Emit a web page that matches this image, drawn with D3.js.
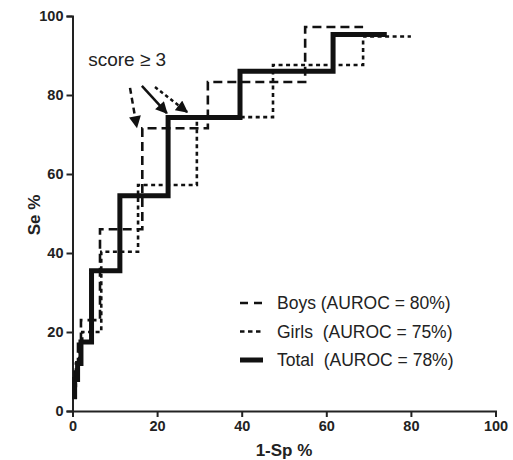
<!DOCTYPE html>
<html>
<head>
<meta charset="utf-8">
<script src="https://cdn.jsdelivr.net/npm/d3@7"></script>
<style>
  body { margin: 0; background: #fff; }
  svg { display: block; font-family: Arial, "Liberation Sans", sans-serif; }
  text { white-space: pre; }
</style>
</head>
<body>
<svg id="chart" width="513" height="460"></svg>
<script>
// ROC curve vertices (1-Sp %, Se %)
const boysX  = [0.5, 0.5, 1.3, 1.3, 2, 2, 6.5, 6.5, 16.5, 16.5, 32, 32, 55, 55, 68.7];
const boysY  = [5, 10, 10, 17, 17, 23, 23, 46, 46, 71.6, 71.6, 83.3, 83.3, 97.2, 97.2];
const girlsX = [0.8, 0.8, 1.6, 1.6, 2.3, 2.3, 6.8, 6.8, 15.5, 15.5, 29.4, 29.4, 47.4, 47.4, 68.7, 68.7, 80];
const girlsY = [6, 12, 12, 17, 17, 20, 20, 40.3, 40.3, 57.2, 57.2, 74.4, 74.4, 87.6, 87.6, 94.8, 94.8];
const totalX = [0.5, 0.5, 1.2, 1.2, 2, 2, 4.5, 4.5, 11.2, 11.2, 22.6, 22.6, 39.6, 39.6, 61.6, 61.6, 74.3];
const totalY = [3, 8, 8, 12, 12, 17.5, 17.5, 35.5, 35.5, 54.5, 54.5, 74.3, 74.3, 86, 86, 95.3, 95.3];

const legendLabels = ["Boys (AUROC = 80%)", "Girls  (AUROC = 75%)", "Total  (AUROC = 78%)"];
const tickValues = [0, 20, 40, 60, 80, 100];

// "score >= 3" arrows: start and end in data units
const arrowFrom = [[13.6, 81.8], [16.4, 82.3], [19.5, 82]];
const arrowTo   = [[15.2, 71.9], [22.3, 75.4], [27.1, 75.7]];

const svg = d3.select("#chart");
const x = d3.scaleLinear().domain([0, 100]).range([72.5, 495.5]);
const y = d3.scaleLinear().domain([0, 100]).range([411, 16]);

const styles = [
    { width: 2.6, dash: "9,5" },   // boys
    { width: 2.6, dash: "4,3.5" }, // girls
    { width: 5, dash: null }       // total
];
const ink = "#111";

function pts(xs, ys) { return xs.map((v, i) => [v, ys[i]]); }
const series = [pts(boysX, boysY), pts(girlsX, girlsY), pts(totalX, totalY)];

const line = d3.line().x(d => x(d[0])).y(d => y(d[1]));

// axes
const yAxis = svg.append("g")
    .attr("transform", "translate(" + x(0) + ",0)")
    .call(d3.axisLeft(y).tickValues(tickValues).tickSize(6).tickPadding(3));
const xAxis = svg.append("g")
    .attr("transform", "translate(0," + y(0) + ")")
    .call(d3.axisBottom(x).tickValues(tickValues).tickSize(6).tickPadding(4));

[xAxis, yAxis].forEach(a => {
    a.select(".domain").attr("stroke", "#222").attr("stroke-width", 2);
    a.selectAll(".tick line").attr("stroke", "#222").attr("stroke-width", 2);
    a.selectAll(".tick text")
        .attr("fill", "#222")
        .attr("font-size", "14.5px")
        .attr("font-weight", "bold")
        .attr("font-family", "Arial, 'Liberation Sans', sans-serif");
});

// axis titles
svg.append("text")
    .attr("x", 284).attr("y", 456)
    .attr("text-anchor", "middle")
    .attr("font-size", "17px").attr("font-weight", "bold").attr("fill", "#222")
    .text("1-Sp %");
svg.append("text")
    .attr("transform", "translate(40,215) rotate(-90)")
    .attr("text-anchor", "middle")
    .attr("font-size", "17px").attr("font-weight", "bold").attr("fill", "#222")
    .text("Se %");

// curves
series.forEach((s, i) => {
    svg.append("path")
        .datum(s)
        .attr("d", line)
        .attr("fill", "none")
        .attr("stroke", ink)
        .attr("stroke-width", styles[i].width)
        .attr("stroke-dasharray", styles[i].dash);
});

// arrow head marker
svg.append("defs").append("marker")
    .attr("id", "head")
    .attr("viewBox", "0 0 10 10")
    .attr("refX", 9).attr("refY", 5)
    .attr("markerWidth", 13).attr("markerHeight", 12)
    .attr("markerUnits", "userSpaceOnUse")
    .attr("orient", "auto")
    .append("path")
    .attr("d", "M0,0L10,5L0,10Z")
    .attr("fill", ink);

const arrowDash = ["6,4", null, "3.5,3"];
arrowFrom.forEach((a, i) => {
    svg.append("line")
        .attr("x1", x(a[0])).attr("y1", y(a[1]))
        .attr("x2", x(arrowTo[i][0])).attr("y2", y(arrowTo[i][1]))
        .attr("stroke", ink)
        .attr("stroke-width", 2.5)
        .attr("stroke-dasharray", arrowDash[i])
        .attr("marker-end", "url(#head)");
});

svg.append("text")
    .attr("x", x(3.7)).attr("y", y(87.3))
    .attr("font-size", "19px").attr("fill", "#222")
    .text("score \u2265 3");

// legend
const legend = svg.append("g");
legendLabels.forEach((lab, i) => {
    const ly = 303 + i * 28.5;
    legend.append("line")
        .attr("x1", 240).attr("x2", 263)
        .attr("y1", ly).attr("y2", ly)
        .attr("stroke", ink)
        .attr("stroke-width", i == 2 ? 5 : 2.6)
        .attr("stroke-dasharray", i == 0 ? "8,6" : (i == 1 ? "4.5,3.5" : null));
    legend.append("text")
        .attr("x", 277).attr("y", ly)
        .attr("dy", "0.35em")
        .attr("font-size", "17.5px").attr("fill", "#222")
        .text(lab);
});
</script>
</body>
</html>
